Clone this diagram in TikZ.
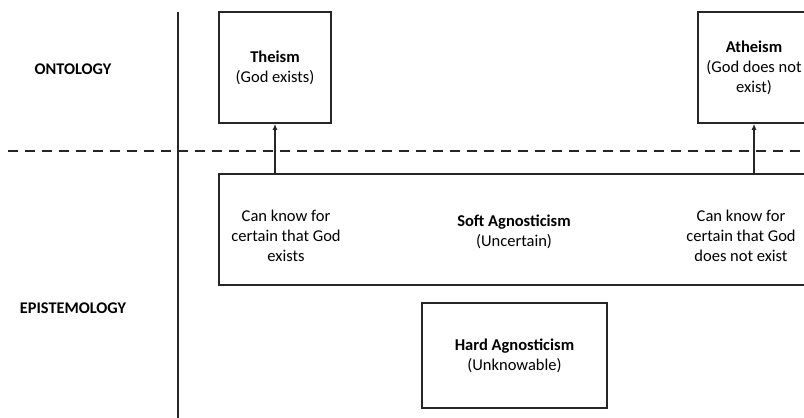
\documentclass[tikz,border=0pt]{standalone}
\usepackage{fontspec}
\setmainfont{Carlito}
\usetikzlibrary{arrows.meta}
\begin{document}
\begin{tikzpicture}[x=1pt,y=-1pt,
  ink/.style={draw=black!85},
  box/.style={ink, line width=1.5pt, inner sep=0pt, align=center,
    font=\fontsize{16.5}{20}\selectfont},
  txt/.style={align=center, inner sep=0pt, font=\fontsize{16.5}{20}\selectfont},
  head/.style={inner sep=0pt, font=\bfseries\fontsize{16.3}{18}\selectfont},
  link/.style={ink, line width=1.8pt, -{Latex[length=6pt,width=5pt]}}]
\useasboundingbox (0,0) rectangle (804,418);
\clip (0,0) rectangle (804,418);

% row headings
\node[head] (onto) at (73,69) {ONTOLOGY};
\node[head] (epist) at (73,308) {EPISTEMOLOGY};

% divider lines
\coordinate (vtop) at (178,12);
\coordinate (vbot) at (178,420);
\coordinate (dl) at (8,151);
\coordinate (dr) at (806,151);
\draw[ink, line width=2.2pt] (vtop) -- (vbot);
\draw[ink, line width=2.8pt, dash pattern=on 10pt off 7pt] (dl) -- (dr);

% ontological positions
\node[box, minimum width=112pt, minimum height=111pt] (theism) at (275,67.5)
  {\textbf{Theism}\\(God exists)};
\node[box, minimum width=112pt, minimum height=111pt] (atheism) at (754,67.5)
  {\textbf{Atheism}\\(God does not\\exist)};

% epistemological positions
\node[box, minimum width=610pt, minimum height=111pt] (soft) at (524,229.5) {};
\node[txt] (left) at (286,236) {Can know for\\certain that God\\exists};
\node[txt] (mid) at (514,232) {\textbf{Soft Agnosticism}\\(Uncertain)};
\node[txt] (right) at (741,236) {Can know for\\certain that God\\does not exist};
\node[box, minimum width=185pt, minimum height=105pt] (hard) at (514.5,355.5)
  {\textbf{Hard Agnosticism}\\(Unknowable)};

% arrows up to ontology
\draw[link] (soft.north -| theism.south) -- (theism.south);
\draw[link] (soft.north -| atheism.south) -- (atheism.south);
\end{tikzpicture}
\end{document}
